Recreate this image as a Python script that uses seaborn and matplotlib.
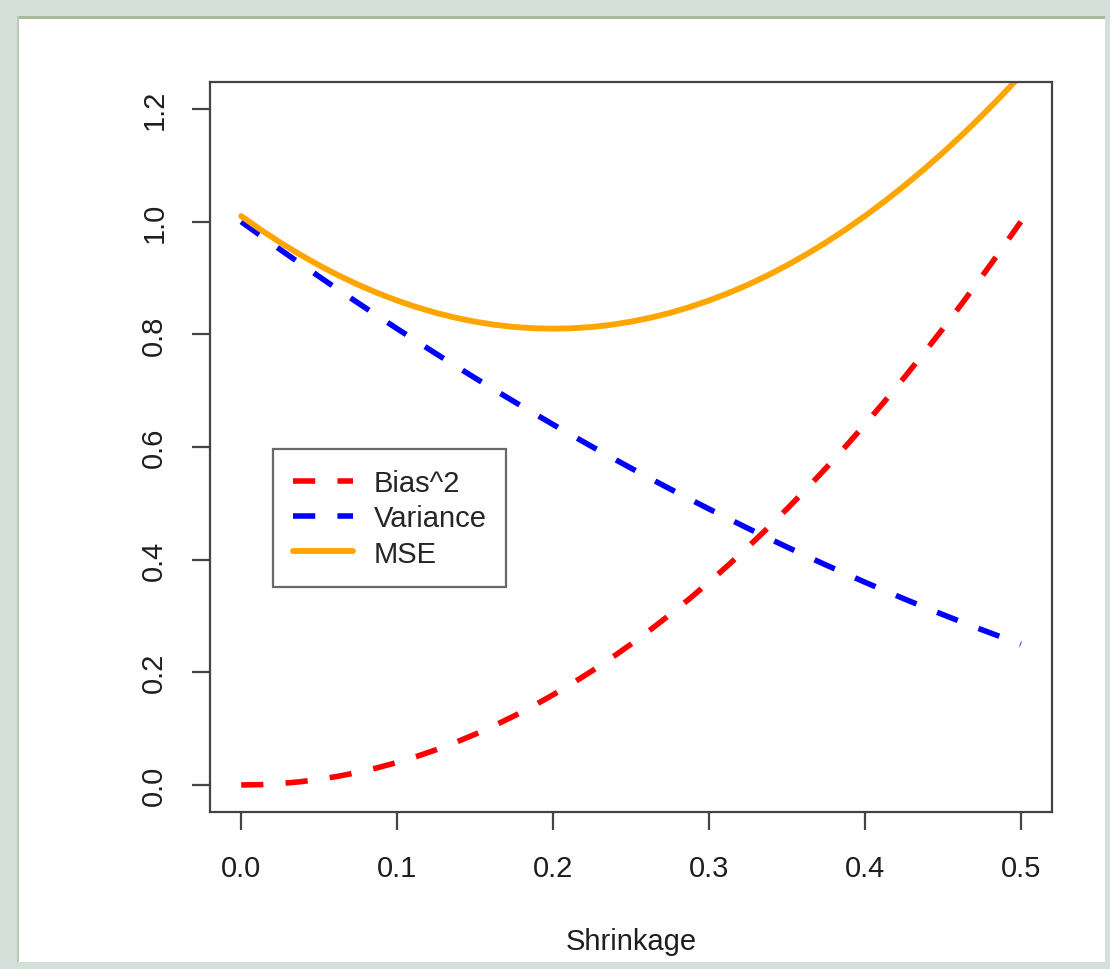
import numpy as np
import pandas as pd
import seaborn as sns
import matplotlib.pyplot as plt
from matplotlib.patches import Rectangle

# values (step 0.0125 along the x axis)
shrinkage = [0.0, 0.0125, 0.025, 0.0375, 0.05, 0.0625, 0.075, 0.0875, 0.1, 0.1125,
             0.125, 0.1375, 0.15, 0.1625, 0.175, 0.1875, 0.2, 0.2125, 0.225, 0.2375,
             0.25, 0.2625, 0.275, 0.2875, 0.3, 0.3125, 0.325, 0.3375, 0.35, 0.3625,
             0.375, 0.3875, 0.4, 0.4125, 0.425, 0.4375, 0.45, 0.4625, 0.475, 0.4875, 0.5]
bias2 = [0.0, 0.0006, 0.0025, 0.0056, 0.01, 0.0156, 0.0225, 0.0306, 0.04, 0.0506,
         0.0625, 0.0756, 0.09, 0.1056, 0.1225, 0.1406, 0.16, 0.1806, 0.2025, 0.2256,
         0.25, 0.2756, 0.3025, 0.3306, 0.36, 0.3906, 0.4225, 0.4556, 0.49, 0.5256,
         0.5625, 0.6006, 0.64, 0.6806, 0.7225, 0.7656, 0.81, 0.8556, 0.9025, 0.9506, 1.0]
variance = [1.0, 0.9752, 0.9506, 0.9264, 0.9025, 0.8789, 0.8556, 0.8327, 0.81, 0.7877,
            0.7656, 0.7439, 0.7225, 0.7014, 0.6806, 0.6602, 0.64, 0.6202, 0.6006, 0.5814,
            0.5625, 0.5439, 0.5256, 0.5077, 0.49, 0.4727, 0.4556, 0.4389, 0.4225, 0.4064,
            0.3906, 0.3752, 0.36, 0.3452, 0.3306, 0.3164, 0.3025, 0.2889, 0.2756, 0.2627, 0.25]
mse = [1.01, 0.9858, 0.9631, 0.942, 0.9225, 0.9045, 0.8881, 0.8733, 0.86, 0.8483,
       0.8381, 0.8295, 0.8225, 0.817, 0.8131, 0.8108, 0.81, 0.8108, 0.8131, 0.817,
       0.8225, 0.8295, 0.8381, 0.8483, 0.86, 0.8733, 0.8881, 0.9045, 0.9225, 0.942,
       0.9631, 0.9858, 1.01, 1.0358, 1.0631, 1.092, 1.1225, 1.1545, 1.1881, 1.2233, 1.26]

x_ticks = [0.0, 0.1, 0.2, 0.3, 0.4, 0.5]
y_ticks = [0.0, 0.2, 0.4, 0.6, 0.8, 1.0, 1.2]

sns.set_theme(style="white")
plt.rcParams['font.family'] = ['Liberation Sans', 'DejaVu Sans']

fig = plt.figure(figsize=(11.1, 9.7), dpi=100, facecolor='#d6e0da')
W, H = 1110, 970
# white panel with the thin green top rule
fig.add_artist(Rectangle((17 / W, 7 / H), 1088 / W, 943 / H, transform=fig.transFigure,
                         facecolor='white', edgecolor='none', zorder=0))
fig.add_artist(Rectangle((17 / W, 950 / H), 1088 / W, 3 / H, transform=fig.transFigure,
                         facecolor='#a9b99b', edgecolor='none', zorder=0))
fig.add_artist(Rectangle((17 / W, 7 / H), 1.5 / W, 946 / H, transform=fig.transFigure,
                         facecolor='#b9c8b0', edgecolor='none', zorder=0))

ax = fig.add_axes([210 / W, 157 / H, 842 / W, 730 / H])
ax.set_facecolor('white')

df = pd.DataFrame({'x': shrinkage, 'bias': bias2, 'var': variance, 'mse': mse})
sns.lineplot(data=df, x='x', y='bias', ax=ax, color='#ff0000', lw=4,
             linestyle=(0, (4, 4)), label='Bias^2')
sns.lineplot(data=df, x='x', y='var', ax=ax, color='#0000ff', lw=4,
             linestyle=(0, (4, 4)), label='Variance')
sns.lineplot(data=df, x='x', y='mse', ax=ax, color='#ffa500', lw=4.2, label='MSE')

ax.set_xlim(-0.02, 0.52)
ax.set_ylim(-0.048, 1.248)
ax.set_xticks(x_ticks)
ax.set_xticklabels([f'{v:.1f}' for v in x_ticks])
ax.set_yticks(y_ticks)
ax.set_yticklabels([f'{v:.1f}' for v in y_ticks], rotation=90, va='center')
ax.tick_params(axis='both', direction='out', length=13, width=1.6, colors='#444444',
               labelcolor='#1e1e1e', labelsize=21, pad=17, bottom=True, left=True)
ax.set_xlabel('Shrinkage', fontsize=21, color='#1e1e1e', labelpad=33)
ax.set_ylabel('')
for s in ax.spines.values():
    s.set_color('#444444')
    s.set_linewidth(1.6)

leg = ax.legend(loc='upper left', bbox_to_anchor=(0.0748, 0.497), borderaxespad=0,
                fontsize=21, frameon=True, fancybox=False, handlelength=2.05,
                handletextpad=0.72, labelspacing=0.25, borderpad=0.68)
leg.get_frame().set_edgecolor('#444444')
leg.get_frame().set_linewidth(1.6)

fig.savefig('out.png', dpi=100, facecolor=fig.get_facecolor())
